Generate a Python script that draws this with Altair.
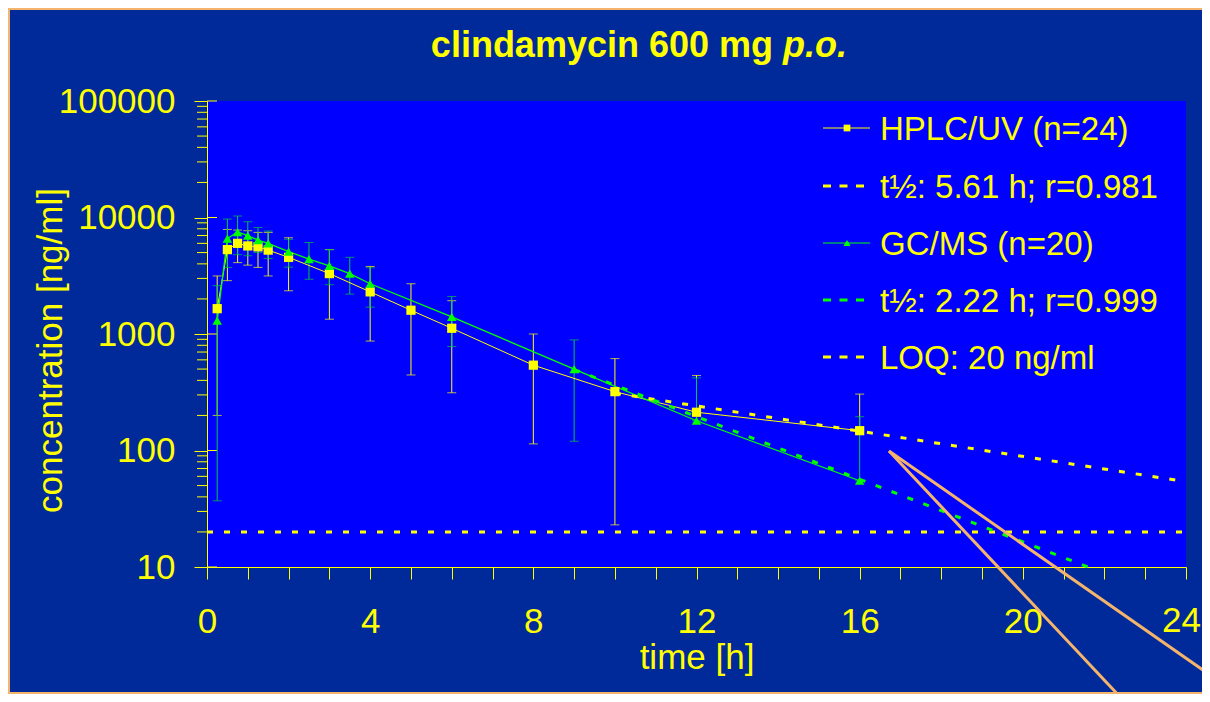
import altair as alt
import pandas as pd

# ---------------- data ----------------
hplc_t = [0.25, 0.5, 0.75, 1, 1.25, 1.5, 2, 3, 4, 5, 6, 8, 10, 12, 16]
hplc_mean = [1650, 5300, 6000, 5700, 5600, 5250, 4550, 3300, 2300, 1600, 1120, 540, 320, 213, 148]
hplc_hi = [3150, 7900, 7800, 7700, 7450, 7450, 6700, 5300, 3800, 2700, 1930, 1000, 615, 440, 305]
hplc_lo = [200, 2870, 4100, 3900, 3730, 3150, 2350, 1340, 870, 445, 313, 114, 23, 213, 148]

gc_t = [0.25, 0.5, 0.75, 1, 1.25, 1.5, 2, 2.5, 3, 3.5, 4, 6, 9, 12, 16]
gc_mean = [1300, 6600, 7500, 7000, 6400, 6000, 5100, 4400, 3850, 3300, 2700, 1400, 500, 180, 55]
gc_hi = [2600, 9700, 10300, 9200, 8200, 7650, 6500, 6100, 5300, 4550, 3700, 2100, 890, 420, 195]
gc_lo = [37, 3730, 4800, 4700, 5000, 4450, 3750, 2950, 2650, 2200, 1700, 780, 120, 180, 55]

hplc_fit_t = [10, 24]
hplc_fit_c = [310, 54]
gc_fit_t = [9, 21.6]
gc_fit_c = [495, 10]
loq_t = [0, 24]
loq_c = [20, 20]

legend_labels = ["HPLC/UV (n=24)", "t½: 5.61 h; r=0.981", "GC/MS (n=20)",
                 "t½: 2.22 h; r=0.999", "LOQ: 20 ng/ml"]
title_main = "clindamycin 600 mg"
title_ital = "p.o."
x_title = "time [h]"
y_title = "concentration [ng/ml]"
y_major = [10, 100, 1000, 10000, 100000]
y_minor = [d * m for d in [10, 100, 1000, 10000] for m in range(2, 10)]
x_ticks = list(range(0, 25))
x_last_label = "24"

# ---------------- styling ----------------
FONT = "Liberation Sans"
YEL = "#FFFF00"
GRN = "#00FF00"
GRN_BAR = "#00CC33"
ORANGE = "#F4B46C"
W, H = 979, 466
PAD_R = 16

xs = alt.Scale(domain=[0, 24], nice=False, zero=False)
ys = alt.Scale(type="log", domain=[10, 100000], nice=False)

x_axis = alt.Axis(values=x_ticks,
                  labelExpr="datum.value % 4 === 0 && datum.value < 24 ? datum.label : ''",
                  grid=False, tickSize=12, tickColor=YEL, domainColor=YEL,
                  labelFont=FONT, labelFontSize=35, labelColor=YEL, labelPadding=25,
                  labelFlush=False, title=x_title, titleFont=FONT, titleFontSize=35,
                  titleFontWeight="normal", titleColor=YEL, titleY=90,
                  titleBaseline="middle")
y_axis = alt.Axis(values=y_major, format="d", grid=False, tickSize=13, tickColor=YEL,
                  domainColor=YEL, labelFont=FONT, labelFontSize=35, labelColor=YEL,
                  labelPadding=19, labelFlush=False, title=y_title, titleFont=FONT,
                  titleFontSize=35, titleFontWeight="normal", titleColor=YEL,
                  titleAngle=270, titleX=-157, titleY=249, titleAlign="center",
                  titleBaseline="middle")


def X(field="t"):
    return alt.X(f"{field}:Q", scale=xs, axis=x_axis)


def Y(field="c"):
    return alt.Y(f"{field}:Q", scale=ys, axis=y_axis)


hplc = pd.DataFrame({"t": hplc_t, "c": hplc_mean, "hi": hplc_hi, "lo": hplc_lo})
gc = pd.DataFrame({"t": gc_t, "c": gc_mean, "hi": gc_hi, "lo": gc_lo})
hfit = pd.DataFrame({"t": hplc_fit_t, "c": hplc_fit_c})
gfit = pd.DataFrame({"t": gc_fit_t, "c": gc_fit_c})
loq = pd.DataFrame({"t": loq_t, "c": loq_c})
one = pd.DataFrame({"a": [0]})

layers = []

# frame border
layers.append(alt.Chart(one).mark_rect(fill="transparent", stroke=ORANGE, strokeWidth=2).encode(
    x=alt.value(-198), x2=alt.value(W + 40), y=alt.value(-92), y2=alt.value(H + 126)))

# y minor ticks and inward parts of major ticks
layers.append(alt.Chart(pd.DataFrame({"c": y_minor})).mark_rule(color=YEL, strokeWidth=1).encode(
    y=Y(), x=alt.value(-10), x2=alt.value(0)))
layers.append(alt.Chart(pd.DataFrame({"c": y_major})).mark_rule(color=YEL, strokeWidth=1).encode(
    y=Y(), x=alt.value(0), x2=alt.value(10)))

# last x label, kept inside the page edge
layers.append(alt.Chart(one).mark_text(text=x_last_label, font=FONT, fontSize=35, color=YEL,
                                       align="right", baseline="top").encode(
    x=alt.value(W + PAD_R - 1), y=alt.value(H + 12 + 25)))

# LOQ
layers.append(alt.Chart(loq).mark_line(color=YEL, strokeWidth=3, strokeDash=[6, 11]).encode(
    x=X(), y=Y()))

# error bars
for df, col in [(hplc, YEL), (gc, GRN_BAR)]:
    layers.append(alt.Chart(df).mark_rule(color=col, strokeWidth=1).encode(
        x=X(), y=Y("lo"), y2="hi:Q"))
    layers.append(alt.Chart(df).mark_tick(color=col, orient="horizontal", size=9, thickness=1).encode(
        x=X(), y=Y("hi")))
    layers.append(alt.Chart(df).mark_tick(color=col, orient="horizontal", size=9, thickness=1).encode(
        x=X(), y=Y("lo")))

# connecting lines
layers.append(alt.Chart(hplc).mark_line(color=YEL, strokeWidth=1).encode(x=X(), y=Y()))
layers.append(alt.Chart(gc).mark_line(color=GRN, strokeWidth=1.3).encode(x=X(), y=Y()))

# fitted elimination lines
layers.append(alt.Chart(hfit).mark_line(color=YEL, strokeWidth=3, strokeDash=[6, 11]).encode(
    x=X(), y=Y()))
layers.append(alt.Chart(gfit).mark_line(color=GRN, strokeWidth=3, strokeDash=[6, 11]).encode(
    x=X(), y=Y()))

# points
layers.append(alt.Chart(hplc).mark_point(shape="square", filled=True, size=85, color=YEL,
                                         opacity=1).encode(x=X(), y=Y()))
layers.append(alt.Chart(gc).mark_point(shape="triangle-up", filled=True, size=90, color=GRN,
                                       opacity=1).encode(x=X(), y=Y()))

# legend
leg_y = [27, 85, 142, 199, 256]
leg_x0, leg_x1, leg_tx = 616, 663, 673
leg_styles = [(YEL, None), (YEL, [8, 8.5]), (GRN, None), (GRN, [8, 8.5]), (YEL, [8, 8.5])]
for lab, ly, (col, dash) in zip(legend_labels, leg_y, leg_styles):
    kw = dict(color=col, strokeWidth=1 if dash is None else 3)
    if dash is not None:
        kw["strokeDash"] = dash
    layers.append(alt.Chart(one).mark_rule(**kw).encode(
        x=alt.value(leg_x0), x2=alt.value(leg_x1), y=alt.value(ly)))
    layers.append(alt.Chart(one).mark_text(text=lab, font=FONT, fontSize=33, color=YEL,
                                           align="left", baseline="middle").encode(
        x=alt.value(leg_tx), y=alt.value(ly + 2)))
layers.append(alt.Chart(one).mark_point(shape="square", filled=True, size=45, color=YEL,
                                        opacity=1).encode(x=alt.value(640), y=alt.value(leg_y[0])))
layers.append(alt.Chart(one).mark_point(shape="triangle-up", filled=True, size=50, color=GRN,
                                        opacity=1).encode(x=alt.value(640), y=alt.value(leg_y[2])))

# title
layers.append(alt.Chart(one).mark_text(text=title_main, font=FONT, fontSize=36, fontWeight="bold",
                                       color=YEL, align="right", baseline="middle").encode(
    x=alt.value(566), y=alt.value(-55)))
layers.append(alt.Chart(one).mark_text(text=title_ital, font=FONT, fontSize=36, fontWeight="bold",
                                       fontStyle="italic", color=YEL, align="left",
                                       baseline="middle").encode(
    x=alt.value(576), y=alt.value(-55)))

# orange annotation pointers
layers.append(alt.Chart(one).mark_rule(color=ORANGE, strokeWidth=3).encode(
    x=alt.value(682), y=alt.value(350), x2=alt.value(916), y2=alt.value(599)))
layers.append(alt.Chart(one).mark_rule(color=ORANGE, strokeWidth=3).encode(
    x=alt.value(682), y=alt.value(350), x2=alt.value(1003), y2=alt.value(574)))

chart = alt.layer(*layers).properties(
    width=W, height=H,
    padding={"left": 199, "top": 93, "right": PAD_R, "bottom": 127},
    autosize=alt.AutoSizeParams(type="none"),
    background="#00299A",
).configure_view(fill="#0000FF", strokeWidth=0)

chart.save("out.html", embed_options={"renderer": "svg", "actions": False})
